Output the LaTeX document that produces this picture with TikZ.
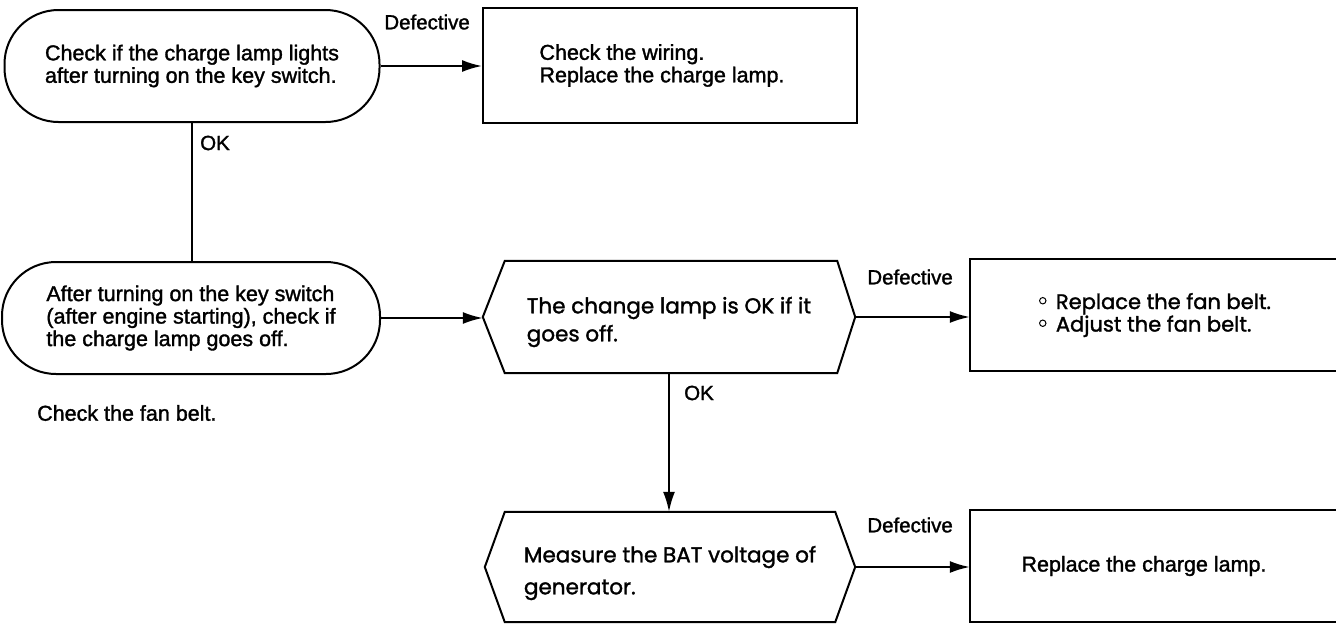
\documentclass[tikz,border=0pt]{standalone}
\usepackage{fontspec}
\setmainfont[FakeBold=1.5]{Liberation Sans}
\newfontfamily\geo[FakeBold=1.5]{Poppins}
\usetikzlibrary{arrows.meta}
\newcommand\bul{\raisebox{0.22em}{\tikz\draw[line width=1pt] (0,0) circle (3.2pt);}\hspace{0.45em}}
\begin{document}
\begin{tikzpicture}[x=1pt,y=-1pt,
  every node/.style={inner sep=0pt},
  line/.style={line width=2pt},
  arr/.style={line width=2pt,-{Latex[length=20pt,width=12pt]}},
  txt/.style={font=\fontsize{21.5}{22.5}\selectfont, align=left},
  oval/.style={draw,line width=2pt,rounded corners=54pt,minimum width=375pt,minimum height=112pt,txt},
  box/.style={draw,line width=2pt,minimum width=374pt,minimum height=115pt,txt},
  hexnode/.style={minimum width=372pt,minimum height=112pt},
  lbl/.style={font=\fontsize{20.5}{22}\selectfont}
]
\useasboundingbox (0,0) rectangle (1336,625);

% shapes
\node[oval] (o1) at (192,66) {Check if the charge lamp lights\\after turning on the key switch.};
\node[box] (b1) at (670,65.5) {\hspace*{-16pt}Check the wiring.\\\hspace*{-16pt}Replace the charge lamp.};
\node[oval, minimum width=378pt] (o2) at (191,318) {After turning on the key switch\\(after engine starting), check if\\the charge lamp goes off.};
\node[hexnode, font=\geo\fontsize{21.5}{28}\selectfont, align=left] (h1) at (669,322) {The change lamp is OK if it\\goes off.};
\node[minimum width=370pt, minimum height=112pt, font=\geo\fontsize{21}{21.5}\selectfont, align=left] (b2) at (1155,315) {\bul Replace the fan belt.\\\bul Adjust the fan belt.};
\node[hexnode, minimum width=370pt, minimum height=110pt, font=\geo\fontsize{21.5}{32}\selectfont, align=left] (h2) at (670,573) {Measure the BAT voltage of\\generator.};
\node[minimum width=370pt, minimum height=112pt, txt] (b3) at (1155,566) {\hspace*{-22pt}Replace the charge lamp.};

% hexagon corners (text sits a little below the shape's middle)
\coordinate (h1w) at ([yshift=5pt]h1.west);
\coordinate (h1e) at ([yshift=5pt]h1.east);
\coordinate (h1n) at ([yshift=5pt]h1.north);
\coordinate (h1s) at ([yshift=5pt]h1.south);
\coordinate (h2w) at ([yshift=6pt]h2.west);
\coordinate (h2e) at ([yshift=6pt]h2.east);
\coordinate (h2n) at ([yshift=6pt]h2.north);
\coordinate (h2s) at ([yshift=6pt]h2.south);
\draw[line] (h1w) -- ([shift={(22pt,5pt)}]h1.north west) -- ([shift={(-18pt,5pt)}]h1.north east) -- (h1e)
  -- ([shift={(-18pt,5pt)}]h1.south east) -- ([shift={(22pt,5pt)}]h1.south west) -- cycle;
\draw[line] (h2w) -- ([shift={(20pt,6pt)}]h2.north west) -- ([shift={(-20pt,6pt)}]h2.north east) -- (h2e)
  -- ([shift={(-20pt,6pt)}]h2.south east) -- ([shift={(20pt,6pt)}]h2.south west) -- cycle;

% open boxes
\draw[line] (b2.north east) -- (b2.north west) -- (b2.south west) -- (b2.south east);
\draw[line] (b3.north east) -- (b3.north west) -- (b3.south west) -- (b3.south east);

% labels
\node[lbl, anchor=east] (d1) at (470,22) {Defective};
\node[lbl, anchor=east] (d2) at (953,277) {Defective};
\node[lbl, anchor=east] (d3) at (953,525) {Defective};
\node[lbl, anchor=west] (ok1) at (200,143) {OK};
\node[lbl, anchor=west] (ok2) at (684,393) {OK};
\node[txt, anchor=west] (fb) at (37,413) {Check the fan belt.};

% connectors
\draw[arr] (o1.east) -- (o1.east -| b1.west);
\draw[line] (o1.south) -- (o1.south |- o2.north);
\draw[arr] (o2.east) -- (o2.east -| h1w);
\draw[arr] (h1e) -- (h1e -| b2.west);
\draw[arr] (h1s) -- (h1s |- h2n);
\draw[arr] (h2e) -- (h2e -| b3.west);
\end{tikzpicture}
\end{document}
